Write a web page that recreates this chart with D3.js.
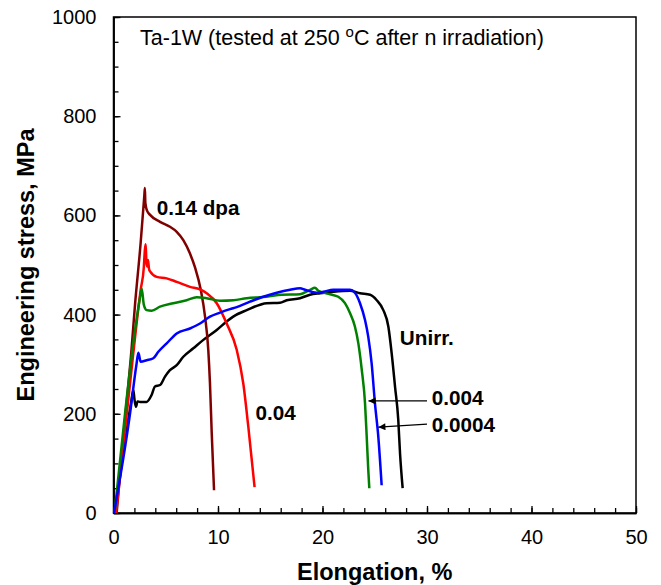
<!DOCTYPE html>
<html>
<head>
<meta charset="utf-8">
<script src="https://cdn.jsdelivr.net/npm/d3@7"></script>
<style>
  body { margin: 0; background: #fff; }
  text { font-family: Arial, "Liberation Sans", sans-serif; }
</style>
</head>
<body>
<div id="chart"></div>
<script>
// curves: [elongation %, stress MPa]
const unirr = [[0.1,0],[1.0,130],[1.7,225],[1.9,248],[2.0,230],[2.15,214],[2.3,225],[2.54,224],[3.17,224],[3.65,238],[3.97,255],[4.45,258],[4.93,275],[5.4,288],[6.05,298],[6.68,315],[7.64,332],[8.6,349],[9.88,369],[10.83,386],[11.46,396],[12.75,409],[14.66,423],[15.93,424],[16.57,429],[17.85,433],[18.8,440],[19.76,443],[21.03,446],[22.63,448],[23.59,443],[24.55,440],[25.19,429],[25.82,409],[26.3,376],[26.62,322],[26.94,255],[27.25,188],[27.42,120],[27.67,50]]
const dpa0004 = [[0.05,0],[1.58,200],[2.2,300],[2.38,323],[2.6,305],[3.17,308],[3.81,312],[4.29,325],[5.09,342],[6.05,362],[7.32,372],[8.28,382],[9.23,396],[10.19,404],[11.15,411],[11.79,415],[13.06,426],[14.33,436],[15.62,444],[16.9,450],[17.85,453],[18.33,450],[19.44,444],[20.08,446],[21.03,450],[22.63,450],[23.1,444],[23.59,423],[24.07,389],[24.38,355],[24.7,302],[25.02,221],[25.34,154],[25.66,56]]
const dpa004 = [[0.1,0],[1.1,200],[2.0,360],[2.5,430],[2.7,452],[2.9,420],[3.17,409],[3.65,408],[4.45,416],[5.72,423],[7.0,429],[7.96,435],[8.92,433],[10.19,428],[11.46,429],[12.75,433],[14.66,436],[16.1,440],[17.85,441],[18.8,450],[19.28,454],[19.6,448],[20.72,441],[21.51,436],[22.15,423],[22.63,403],[23.1,376],[23.43,342],[23.75,290],[24.07,221],[24.23,154],[24.38,87],[24.48,50]]
const dpa04 = [[0.25,0],[1.5,245],[2.6,450],[2.9,495],[3.0,530],[3.08,542],[3.15,505],[3.24,497],[3.3,510],[3.4,492],[3.5,487],[4.13,476],[5.09,473],[6.05,466],[7.32,456],[8.28,451],[8.92,443],[9.88,423],[10.83,382],[11.79,329],[12.42,261],[12.9,174],[13.5,52]]
const dpa14 = [[0.3,0],[1.0,165],[1.72,329],[2.06,420],[2.6,545],[2.95,640],[3.0,655],[3.05,625],[3.2,610],[3.5,601],[4.45,587],[5.4,577],[6.05,567],[6.68,550],[7.3,524],[7.8,495],[8.35,450],[8.76,396],[9.07,329],[9.23,262],[9.4,161],[9.62,46]]

const seriesNames = ["Unirr.", "0.14 dpa", "0.04", "0.004", "0.0004"]
const seriesData = [unirr, dpa14, dpa04, dpa004, dpa0004]
const seriesColors = ["#000000", "#800000", "#ff0000", "#008000", "#0000ff"]

const xTicks = [0, 10, 20, 30, 40, 50]
const yTicks = [0, 200, 400, 600, 800, 1000]

// label text, anchor point in data units
const labels = [
    { text: "0.14 dpa", x: 4.13, y: 601 },
    { text: "0.04", x: 13.6, y: 187 },
    { text: "Unirr.", x: 27.4, y: 339 },
    { text: "0.004", x: 30.45, y: 218 },
    { text: "0.0004", x: 30.45, y: 164 }
]
// arrows: from -> to, data units
const arrows = [
    { x1: 30.0, y1: 226, x2: 24.4, y2: 226 },
    { x1: 30.0, y1: 179, x2: 25.35, y2: 173 }
]

var margin = { top: 17, right: 25, bottom: 72, left: 113.5 },
    width = 661 - margin.left - margin.right,
    height = 585 - margin.top - margin.bottom

let svg = d3.select("#chart")
    .append("svg")
    .attr("width", 661)
    .attr("height", 585)

let g = svg.append("g")
    .attr("transform", "translate(" + margin.left + "," + margin.top + ")")

var x = d3.scaleLinear().domain([0, 50]).range([0, width])
var y = d3.scaleLinear().domain([0, 1000]).range([height, 0])

// minor ticks first
g.append("g")
    .attr("transform", "translate(0," + height + ")")
    .call(d3.axisBottom(x).tickValues(d3.range(0, 51, 2)).tickSizeInner(-5).tickSizeOuter(0).tickFormat(""))
g.append("g")
    .call(d3.axisLeft(y).tickValues(d3.range(0, 1001, 50)).tickSizeInner(-5).tickSizeOuter(0).tickFormat(""))

// major ticks + labels
var xAxis = g.append("g")
    .attr("transform", "translate(0," + height + ")")
    .call(d3.axisBottom(x).tickValues(xTicks).tickSizeInner(-7).tickSizeOuter(0).tickPadding(17).tickFormat(d3.format("d")))
var yAxis = g.append("g")
    .call(d3.axisLeft(y).tickValues(yTicks).tickSizeInner(-7).tickSizeOuter(0).tickPadding(17).tickFormat(d3.format("d")))

g.selectAll(".tick text")
    .attr("font-size", "20px")
    .attr("font-family", "Arial, 'Liberation Sans', sans-serif")
    .attr("fill", "#000")
g.selectAll(".tick line").attr("stroke", "#000").attr("stroke-width", 1.3)
g.selectAll(".domain").attr("stroke", "#000").attr("stroke-width", 1.5)

// frame
g.append("rect")
    .attr("width", width)
    .attr("height", height)
    .attr("fill", "none")
    .attr("stroke", "#000")
    .attr("stroke-width", 1.5)

// curves
var line = d3.line()
    .curve(d3.curveMonotoneX)
    .x((d) => x(d[0]))
    .y((d) => y(d[1]))

g.selectAll(".curve")
    .data(seriesData)
    .enter()
    .append("path")
    .attr("class", "curve")
    .attr("d", line)
    .attr("fill", "none")
    .attr("stroke", (d, i) => seriesColors[i])
    .attr("stroke-width", 2.5)
    .attr("stroke-linejoin", "round")

// arrows
svg.append("defs").append("marker")
    .attr("id", "head")
    .attr("viewBox", "0 0 10 10")
    .attr("refX", 10)
    .attr("refY", 5)
    .attr("markerWidth", 9)
    .attr("markerHeight", 7)
    .attr("markerUnits", "userSpaceOnUse")
    .attr("orient", "auto")
    .append("path")
    .attr("d", "M0,0 L10,5 L0,10 z")
    .attr("fill", "#000")

g.selectAll(".arrow")
    .data(arrows)
    .enter()
    .append("line")
    .attr("class", "arrow")
    .attr("x1", (d) => x(d.x1))
    .attr("y1", (d) => y(d.y1))
    .attr("x2", (d) => x(d.x2))
    .attr("y2", (d) => y(d.y2))
    .attr("stroke", "#000")
    .attr("stroke-width", 1.3)
    .attr("marker-end", "url(#head)")

// curve labels
g.selectAll(".lbl")
    .data(labels)
    .enter()
    .append("text")
    .attr("class", "lbl")
    .attr("x", (d) => x(d.x))
    .attr("y", (d) => y(d.y))
    .attr("font-size", "20.7px")
    .attr("font-weight", "bold")
    .text((d) => d.text)

// note in the corner
var note = g.append("text")
    .attr("x", x(2.54))
    .attr("y", y(943))
    .attr("font-size", "21.5px")
note.append("tspan").text("Ta-1W (tested at 250 ")
note.append("tspan").attr("font-size", "15px").attr("dy", -8).text("o")
note.append("tspan").attr("dy", 8).text("C after n irradiation)")

// axis titles
svg.append("text")
    .attr("x", margin.left + width / 2)
    .attr("y", 580)
    .attr("text-anchor", "middle")
    .attr("font-size", "23.5px")
    .attr("font-weight", "bold")
    .text("Elongation, %")

svg.append("text")
    .attr("transform", "translate(34," + (margin.top + height / 2) + ") rotate(-90)")
    .attr("text-anchor", "middle")
    .attr("font-size", "23.5px")
    .attr("font-weight", "bold")
    .text("Engineering stress, MPa")
</script>
</body>
</html>
